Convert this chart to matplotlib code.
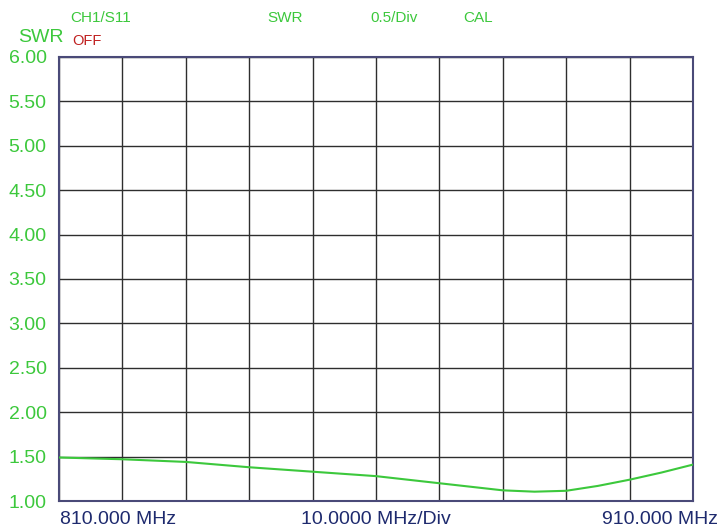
import numpy as np
import matplotlib
matplotlib.use('Agg')
import matplotlib.pyplot as plt

plt.rcParams['font.family'] = ['Liberation Sans', 'DejaVu Sans']

# frequency (MHz) and SWR
freq = [810, 815, 820, 825, 830, 835, 840, 845, 850, 855, 860,
        865, 870, 875, 880, 885, 890, 895, 900, 905, 910]
swr = [1.49, 1.48, 1.47, 1.455, 1.44, 1.41, 1.38, 1.355, 1.33, 1.305, 1.28,
       1.24, 1.20, 1.16, 1.12, 1.105, 1.115, 1.17, 1.24, 1.32, 1.41]
y_ticks = [1.00, 1.50, 2.00, 2.50, 3.00, 3.50, 4.00, 4.50, 5.00, 5.50, 6.00]
x_grid = list(range(810, 911, 10))

green = '#3cc83c'
navy = '#1e2a6e'

fig = plt.figure(figsize=(7.21, 5.29), dpi=100)
ax = fig.add_axes([59/721, 28/529, 634/721, 444/529])

ax.plot(freq, swr, color=green, lw=1.5, zorder=3)
ax.set_xlim(810, 910)
ax.set_ylim(1.0, 6.0)
ax.set_xticks(x_grid)
ax.set_yticks(y_ticks)
ax.set_xticklabels([])
ax.set_yticklabels(['%.2f' % v for v in y_ticks], color=green, fontsize=14)
ax.tick_params(length=0, pad=9)
ax.grid(True, color='#2e2e2e', lw=1)
for s in ax.spines.values():
    s.set_color('#4a4a78')
    s.set_linewidth(1.5)

fig.text(18/721, 1 - 37/529, 'SWR', color=green, fontsize=14, va='center', ha='left')
fig.text(70/721, 1 - 18/529, 'CH1/S11', color=green, fontsize=11, va='center')
fig.text(72/721, 1 - 41/529, 'OFF', color='#c02020', fontsize=10.5, va='center')
fig.text(267/721, 1 - 18/529, 'SWR', color=green, fontsize=11, va='center')
fig.text(370/721, 1 - 18/529, '0.5/Div', color=green, fontsize=11, va='center')
fig.text(463/721, 1 - 18/529, 'CAL', color=green, fontsize=11, va='center')

fig.text(60/721, 1 - 520/529, '810.000 MHz', color=navy, fontsize=14, va='center', ha='left')
fig.text(376/721, 1 - 520/529, '10.0000 MHz/Div', color=navy, fontsize=14, va='center', ha='center')
fig.text(718/721, 1 - 520/529, '910.000 MHz', color=navy, fontsize=14, va='center', ha='right')

fig.savefig('out.png', dpi=100)
